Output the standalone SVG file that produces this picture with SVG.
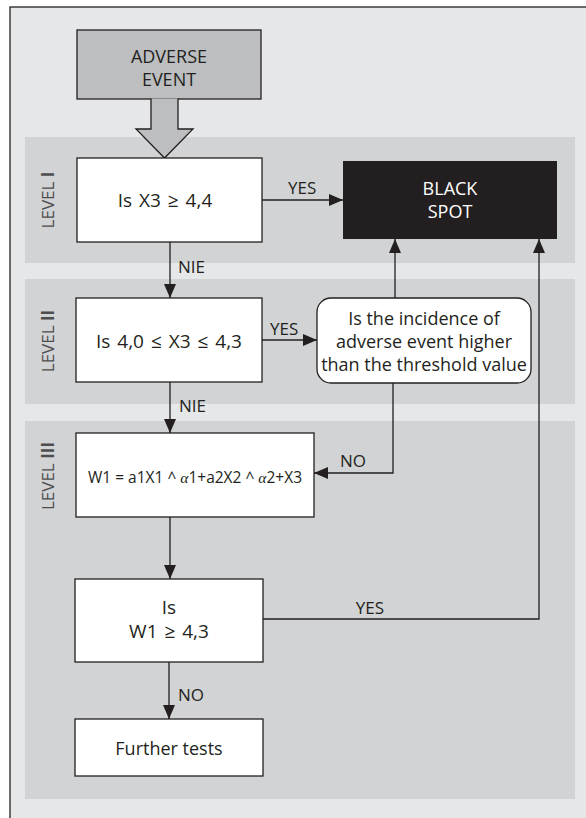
<svg xmlns="http://www.w3.org/2000/svg" width="586" height="818" viewBox="0 0 586 818">
<defs>
<style>
text{font-family:"Open Sans","Liberation Sans",sans-serif;fill:#231f20;font-size:18px;font-weight:400}
.c{text-anchor:middle}
.m{font-size:19px;word-spacing:2px}
.box{fill:#ffffff;stroke:#231f20;stroke-width:1.3}
.band{fill:#d1d3d4}
.ln{fill:none;stroke:#231f20;stroke-width:1.3}
.lvl{font-size:17px;fill:#4d4d4f}
.lab{font-size:17px}
.f{font-size:15.5px}
.al{font-family:"Liberation Serif",serif;font-style:italic}
</style>
<marker id="ah" viewBox="0 0 14 12" refX="14" refY="6" markerWidth="14" markerHeight="12" markerUnits="userSpaceOnUse" orient="auto">
<path d="M0,0 L14,6 L0,12 Z" fill="#231f20"/>
</marker>
</defs>
<rect x="10" y="7" width="600" height="830" fill="#e6e7e8" stroke="#231f20" stroke-width="1.3"/>
<rect class="band" x="25" y="137" width="550" height="126"/>
<rect class="band" x="25" y="279" width="550" height="125"/>
<rect class="band" x="25" y="421" width="550" height="378"/>
<g id="labels-levels">
<text class="lvl c" transform="translate(54,200) rotate(-90)">LEVEL <tspan font-weight="700">I</tspan></text>
<text class="lvl c" transform="translate(54,341) rotate(-90)">LEVEL <tspan font-weight="700">II</tspan></text>
<text class="lvl c" transform="translate(54,476) rotate(-90)">LEVEL <tspan font-weight="700">III</tspan></text>
</g>
<g id="adverse-event">
<rect x="77" y="30" width="184" height="69" fill="#bcbec0" stroke="#231f20" stroke-width="1.3"/>
<path d="M151,98.5 L151,129 L136,129 L164.5,158 L193,129 L178,129 L178,98.5" fill="#bcbec0" stroke="#231f20" stroke-width="1.3"/>
<text class="c" x="169" y="63">ADVERSE</text>
<text class="c" x="169" y="86">EVENT</text>
</g>
<g id="level1">
<rect class="box" x="77" y="158" width="185" height="84"/>
<text class="c m" x="165" y="207">Is X3 ≥ 4,4</text>
</g>
<g id="black-spot">
<rect x="343" y="161" width="214" height="78" fill="#231f20"/>
<text class="c" x="450" y="195" style="fill:#ffffff">BLACK</text>
<text class="c" x="450" y="218" style="fill:#ffffff">SPOT</text>
</g>
<g id="level2">
<rect class="box" x="76" y="298" width="186" height="84"/>
<text class="c m" x="169" y="348">Is 4,0 ≤ X3 ≤ 4,3</text>
</g>
<g id="incidence">
<rect class="box" x="317" y="298" width="214" height="85" rx="14"/>
<text class="c" x="424" y="325">Is the incidence of</text>
<text class="c" x="424" y="348">adverse event higher</text>
<text class="c" x="424" y="371">than the threshold value</text>
</g>
<g id="level3">
<rect class="box" x="76" y="433" width="238" height="84"/>
<text class="c f" x="195" y="483">W1 = a1X1 ^ <tspan class="al">α</tspan>1+a2X2 ^ <tspan class="al">α</tspan>2+X3</text>
</g>
<g id="is-w1">
<rect class="box" x="75" y="579" width="188" height="83"/>
<text class="c m" x="169" y="614">Is</text>
<text class="c m" x="169" y="638">W1 ≥ 4,3</text>
</g>
<g id="further-tests">
<rect class="box" x="75" y="719" width="188" height="57"/>
<text class="c" x="169" y="755">Further tests</text>
</g>
<g id="connectors">
<path class="ln" d="M262,200 L343,200" marker-end="url(#ah)"/>
<path class="ln" d="M170,242 L170,298" marker-end="url(#ah)"/>
<path class="ln" d="M262,340 L317,340" marker-end="url(#ah)"/>
<path class="ln" d="M395,298 L395,239" marker-end="url(#ah)"/>
<path class="ln" d="M170,382 L170,433" marker-end="url(#ah)"/>
<path class="ln" d="M393,383 L393,473 L314,473" marker-end="url(#ah)"/>
<path class="ln" d="M170,517 L170,579" marker-end="url(#ah)"/>
<path class="ln" d="M263,619 L539,619 L539,239" marker-end="url(#ah)"/>
<path class="ln" d="M169,662 L169,719" marker-end="url(#ah)"/>
<text class="lab" x="288" y="194">YES</text>
<text class="lab" x="178" y="273">NIE</text>
<text class="lab" x="270" y="335">YES</text>
<text class="lab" x="179" y="412">NIE</text>
<text class="lab" x="340" y="467">NO</text>
<text class="lab c" x="370" y="614">YES</text>
<text class="lab" x="178" y="701">NO</text>
</g>
</svg>
